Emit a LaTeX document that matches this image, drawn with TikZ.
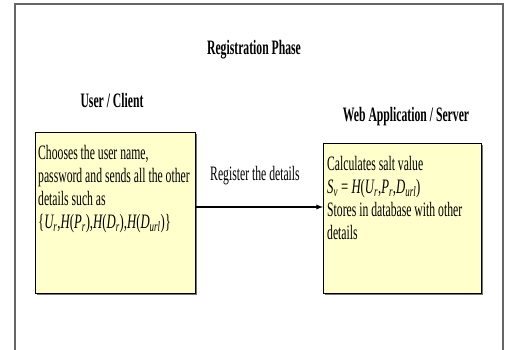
\documentclass[tikz,border=0pt]{standalone}
\usepackage{fontspec}
\setmainfont[FakeStretch=0.57]{Liberation Serif}
\newfontfamily\frmfont[FakeStretch=0.62]{Liberation Serif}
\usetikzlibrary{calc,shadows}

\newcommand\sym[2]{{\itshape #1}\textsubscript{\itshape #2}}
\newcommand\hh{{\itshape H}}

\tikzset{
  box/.style={draw=black, fill={rgb,255:red,255;green,255;blue,204}, line width=1pt,
    drop shadow={shadow xshift=1.3pt, shadow yshift=-1.3pt, fill=black!55, opacity=1}},
  boxtext/.style={anchor=north west, inner sep=0pt, align=left,
    font=\fontsize{20.5}{23}\selectfont},
  head/.style={anchor=base, inner sep=0pt, font=\fontsize{20.5}{23}\selectfont\bfseries}
}

\begin{document}
\begin{tikzpicture}[x=1pt, y=-1pt]
  \useasboundingbox (0,0) rectangle (509,350);

  \coordinate (UL) at (35,132);
  \coordinate (SL) at (323,143);
  \coordinate (arr) at (0,207);

  \draw[black!60, line width=1.6pt] (15,352) -- (15,4) -- (503,4) -- (503,352);

  \node[head] (title) at (254,55) {Registration Phase};
  \node[head] (client) at (112,108) {User / Client};
  \node[head] (webapp) at (406,122) {Web Application / Server};

  \node[box, anchor=north west, minimum width=160pt, minimum height=161pt] (user) at (UL) {};
  \node[box, anchor=north west, minimum width=158pt, minimum height=150pt] (server) at (SL) {};

  \node[boxtext] (usertext) at ($(UL)+(3,13)$) {Chooses the user name,\\
    password and sends all the other\\
    details such as\\
    {\frmfont\{\sym{U}{r},\hh(\sym{P}{r}),\hh(\sym{D}{r}),\hh(\sym{D}{url})\}}};
  \node[boxtext] (servertext) at ($(SL)+(4,13)$) {Calculates salt value\\
    {\frmfont\sym{S}{v} = \hh(\sym{U}{r},\sym{P}{r},\sym{D}{url})}\\
    Stores in database with other\\
    details};

  \draw[-latex, line width=1.3pt] (user.east |- arr) -- (server.west |- arr);
  \node[anchor=base, inner sep=0pt, font=\fontsize{20.5}{23}\selectfont] (reg) at (255,181) {Register the details};
\end{tikzpicture}
\end{document}
